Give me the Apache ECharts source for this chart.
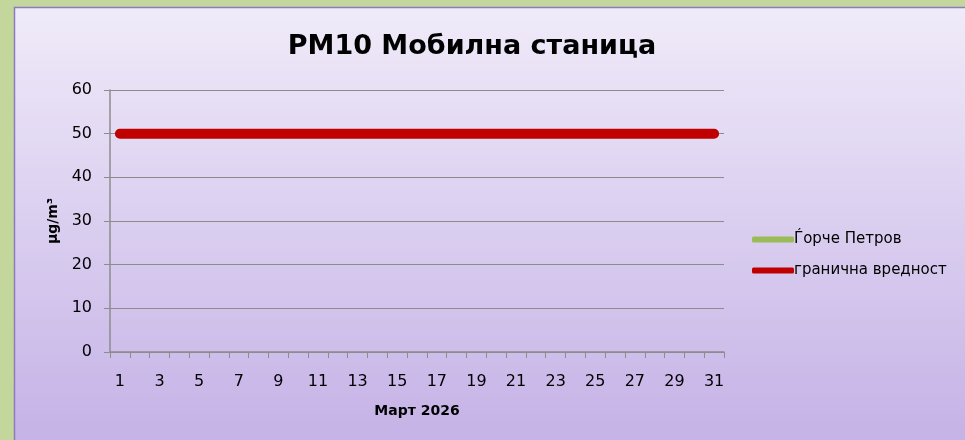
<!DOCTYPE html>
<html>
<head>
<meta charset="utf-8">
<script src="https://cdn.jsdelivr.net/npm/echarts@6/dist/echarts.min.js"></script>
<style>
html,body{margin:0;padding:0;background:#c3d69b;}
#main{width:965px;height:440px;}
</style>
</head>
<body>
<div id="main"></div>
<script>
const days = Array.from({length:31},(_,i)=>String(i+1));
const gorcheValues = [null,null,null,null,null,null,null,null,null,null,null,null,null,null,null,null,null,null,null,null,null,null,null,null,null,null,null,null,null,null,null];
const limitValues = [50,50,50,50,50,50,50,50,50,50,50,50,50,50,50,50,50,50,50,50,50,50,50,50,50,50,50,50,50,50,50];
const yTicks = [0,10,20,30,40,50,60];
const seriesNames = ['Ѓорче Петров','гранична вредност'];
const titleText = 'PM10 Мобилна станица';
const xName = 'Март 2026';
const yName = 'μg/m³';

const FONT = "'Comic Sans MS', 'DejaVu Sans', sans-serif";
const chart = echarts.init(document.getElementById('main'), null, {renderer:'canvas'});
chart.setOption({
  animation:false,
  textStyle:{fontFamily:FONT},
  graphic:[{
    type:'rect', z:-10, silent:true,
    shape:{x:14.5,y:7.5,width:960,height:440},
    style:{
      fill:new echarts.graphic.LinearGradient(0,0,0,1,[{offset:0,color:'#f0ebf9'},{offset:1,color:'#c4b1e6'}]),
      stroke:'#8c7cbf', lineWidth:1.5
    }
  }],
  title:{
    text:titleText, left:467, top:28, textAlign:'center',
    textStyle:{fontFamily:FONT,fontSize:27,fontWeight:'bold',color:'#000'}
  },
  legend:{
    orient:'vertical', left:752, top:232, itemGap:16, padding:0,
    itemWidth:42, itemHeight:6, icon:'roundRect',
    textStyle:{fontFamily:FONT,fontSize:15,color:'#000',padding:[0,0,0,-5]},
    data:seriesNames
  },
  grid:{left:110,right:241,top:90,bottom:88,containLabel:false},
  xAxis:{
    type:'category', data:days, boundaryGap:true,
    name:xName, nameLocation:'middle', nameGap:52,
    nameTextStyle:{fontFamily:FONT,fontSize:14,fontWeight:'bold',color:'#000'},
    axisLine:{lineStyle:{color:'#8c8c8c',width:1.5}},
    axisTick:{show:true,interval:0,length:6,lineStyle:{color:'#8c8c8c'}},
    axisLabel:{interval:1,margin:22,fontSize:16,color:'#000',fontFamily:FONT},
    splitLine:{show:false}
  },
  yAxis:{
    type:'value', min:0, max:60, interval:10,
    name:yName, nameLocation:'middle', nameGap:40, nameRotate:90,
    nameTextStyle:{fontFamily:FONT,fontSize:14,fontWeight:'bold',color:'#000'},
    axisLine:{show:true,lineStyle:{color:'#8c8c8c',width:1.5}},
    axisTick:{show:true,length:6,lineStyle:{color:'#8c8c8c'}},
    axisLabel:{margin:18,fontSize:16,color:'#000',fontFamily:FONT},
    splitLine:{lineStyle:{color:'#8c8c8c',width:1.2}}
  },
  series:[
    {name:seriesNames[0],type:'line',data:gorcheValues,showSymbol:false,
     itemStyle:{color:'#9bbb59'},lineStyle:{color:'#9bbb59',width:6,cap:'round'}},
    {name:seriesNames[1],type:'line',data:limitValues,showSymbol:false,
     itemStyle:{color:'#c00000'},lineStyle:{color:'#c00000',width:10,cap:'round'}}
  ]
});
</script>
</body>
</html>
